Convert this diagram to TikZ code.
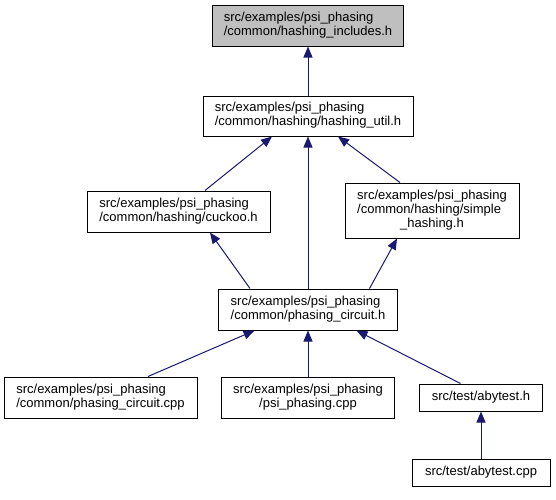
\documentclass[tikz,border=0pt]{standalone}
\usepackage{fontspec}
\setmainfont{Liberation Sans}
\usetikzlibrary{arrows.meta}
\definecolor{edgeblue}{HTML}{191970}
\definecolor{boxgray}{HTML}{BFBFBF}
\newcommand\doxlbl[1]{\begin{tabular}{@{}l@{}}#1\end{tabular}}
\newcommand\doxlast[1]{\multicolumn{1}{@{}c@{}}{#1}}
\begin{document}
\begin{tikzpicture}[x=1pt,y=1pt,
  box/.style={draw=black, line width=1pt, fill=white, inner sep=0pt,
    font=\fontsize{13}{14}\selectfont, anchor=center},
  edge/.style={draw=edgeblue, line width=1pt, -{Triangle[length=11pt,width=9pt]}}]
\useasboundingbox (0,0) rectangle (556,-499);
\node[box, fill=boxgray, minimum width=191pt, minimum height=41pt] (inc) at (308,-25.5)
  {\doxlbl{src/examples/psi\_phasing\\ \doxlast{/common/hashing\_includes.h}}};
\node[box, minimum width=210pt, minimum height=40pt] (util) at (308,-116)
  {\doxlbl{src/examples/psi\_phasing\\ \doxlast{/common/hashing/hashing\_util.h}}};
\node[box, minimum width=183pt, minimum height=41pt] (cuckoo) at (178.5,-211.5)
  {\doxlbl{src/examples/psi\_phasing\\ \doxlast{/common/hashing/cuckoo.h}}};
\node[box, minimum width=174pt, minimum height=55pt] (simple) at (432,-210.5)
  {\doxlbl{src/examples/psi\_phasing\\ /common/hashing/simple\\ \doxlast{\_hashing.h}}};
\node[box, minimum width=179pt, minimum height=41pt] (pch) at (308,-309.5)
  {\doxlbl{src/examples/psi\_phasing\\ \doxlast{/common/phasing\_circuit.h}}};
\node[box, minimum width=193pt, minimum height=41pt] (pccpp) at (100.5,-397.5)
  {\doxlbl{src/examples/psi\_phasing\\ \doxlast{/common/phasing\_circuit.cpp}}};
\node[box, minimum width=173pt, minimum height=41pt] (psicpp) at (308,-397.5)
  {\doxlbl{src/examples/psi\_phasing\\ \doxlast{/psi\_phasing.cpp}}};
\node[box, minimum width=123pt, minimum height=27pt] (abyh) at (481,-397.5)
  {src/test/abytest.h};
\node[box, minimum width=138pt, minimum height=27pt] (abycpp) at (481,-472.5)
  {src/test/abytest.cpp};
\draw[edge] (util.north) -- (inc.south);
\draw[edge] ([xshift=26.5pt]cuckoo.north) -- ([xshift=-36pt]util.south);
\draw[edge] ([xshift=-32pt]simple.north) -- ([xshift=30pt]util.south);
\draw[edge] (pch.north) -- (util.south);
\draw[edge] ([xshift=-58pt]pch.north) -- ([xshift=31.5pt]cuckoo.south);
\draw[edge] ([xshift=61.5pt]pch.north) -- ([xshift=-35pt]simple.south);
\draw[edge] ([xshift=47.5pt]pccpp.north) -- ([xshift=-53.5pt]pch.south);
\draw[edge] (psicpp.north) -- (pch.south);
\draw[edge] ([xshift=-20.5pt]abyh.north) -- ([xshift=48.5pt]pch.south);
\draw[edge] (abycpp.north) -- (abyh.south);
\end{tikzpicture}
\end{document}
